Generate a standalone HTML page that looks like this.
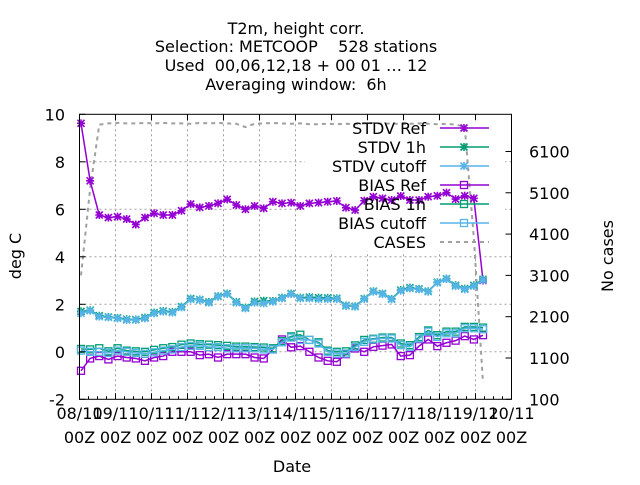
<!DOCTYPE html>
<html><head><meta charset="utf-8"><style>
body{margin:0;background:#fff;}
svg text{font-family:"DejaVu Sans","Liberation Sans",sans-serif;font-size:16px;fill:#000;}
</style></head><body>
<svg id="chart" width="640" height="480" viewBox="0 0 640 480" xmlns="http://www.w3.org/2000/svg">
<g text-anchor="middle">
<text x="296" y="34">T2m, height corr.</text>
<text x="296" y="52" xml:space="preserve">Selection: METCOOP    528 stations</text>
<text x="296" y="71" xml:space="preserve">Used  00,06,12,18 + 00 01 … 12</text>
<text x="296" y="90" xml:space="preserve">Averaging window:  6h</text>
</g>
<g id="grid"></g>
<rect x="305" y="118" width="200" height="133" fill="#fff"/>
<g id="series"></g>
<rect x="79.5" y="114.3" width="432" height="285" fill="none" stroke="#000" stroke-width="1"/>
<g id="axes"></g>
<g id="legend"></g>
<text transform="translate(21,256) rotate(-90)" text-anchor="middle">deg C</text>
<text transform="translate(613,256) rotate(-90)" text-anchor="middle">No cases</text>
<text x="292" y="472" text-anchor="middle">Date</text>
</svg>
<script>
const xTickTop = ["08/11","09/11","10/11","11/11","12/11","13/11","14/11","15/11","16/11","17/11","18/11","19/11","20/11"];
const xTickBottom = "00Z";
const yTicks = [-2,0,2,4,6,8,10];
const y2Ticks = [100,1100,2100,3100,4100,5100,6100];
const stdvRef = [9.62,7.2,5.76,5.65,5.69,5.59,5.36,5.65,5.83,5.76,5.76,5.94,6.22,6.08,6.14,6.25,6.42,6.18,6.0,6.14,6.04,6.32,6.25,6.28,6.14,6.25,6.28,6.32,6.35,6.07,5.97,6.36,6.53,6.46,6.39,6.56,6.39,6.39,6.53,6.57,6.7,6.43,6.57,6.46,3.0];
const stdvCutoff = [1.62,1.73,1.48,1.45,1.41,1.34,1.34,1.41,1.62,1.69,1.65,1.87,2.21,2.18,2.07,2.32,2.43,2.07,1.83,2.07,2.04,2.11,2.25,2.43,2.25,2.25,2.22,2.22,2.22,1.93,1.9,2.22,2.53,2.43,2.21,2.57,2.67,2.63,2.53,2.91,3.06,2.77,2.63,2.77,3.02];
const stdv1h = [1.7,1.75,1.52,1.47,1.43,1.37,1.36,1.44,1.65,1.72,1.68,1.9,2.24,2.2,2.1,2.34,2.45,2.1,1.86,2.12,2.15,2.14,2.28,2.45,2.28,2.3,2.28,2.27,2.25,1.95,1.92,2.24,2.55,2.45,2.23,2.6,2.7,2.65,2.55,2.93,3.08,2.8,2.66,2.8,3.05];
const biasRef = [-0.8,-0.28,-0.18,-0.32,-0.18,-0.24,-0.28,-0.38,-0.24,-0.18,0.0,0.0,0.0,-0.14,-0.1,-0.24,-0.1,-0.1,-0.1,-0.24,-0.28,0.1,0.52,0.19,0.24,0.0,-0.24,-0.38,-0.42,-0.1,0.14,0.0,0.21,0.26,0.31,-0.18,-0.14,0.24,0.52,0.24,0.38,0.47,0.66,0.52,0.7];
const biasCutoff = [0.05,0.0,0.0,-0.05,0.05,0.0,-0.05,-0.08,-0.02,0.05,0.1,0.2,0.25,0.25,0.2,0.2,0.15,0.15,0.15,0.15,0.1,0.1,0.4,0.6,0.5,0.5,0.35,0.0,-0.07,-0.07,0.2,0.42,0.52,0.56,0.56,0.28,0.21,0.56,0.85,0.63,0.78,0.78,0.99,0.99,0.95];
const bias1h = [0.12,0.1,0.15,0.02,0.15,0.05,0.02,0.0,0.08,0.15,0.2,0.3,0.35,0.32,0.3,0.28,0.25,0.22,0.22,0.2,0.18,0.15,0.45,0.65,0.72,0.5,0.4,0.05,0.0,0.02,0.27,0.5,0.55,0.6,0.6,0.35,0.28,0.62,0.9,0.7,0.85,0.85,1.05,1.05,1.02];
const cases = [3100,5200,6750,6780,6790,6780,6780,6790,6780,6790,6780,6780,6770,6790,6780,6790,6780,6770,6690,6770,6780,6790,6780,6770,6780,6760,6760,6770,6760,6770,6760,6780,6790,6770,6780,6760,6770,6780,6770,6760,6770,6750,6700,4000,500];

const NS="http://www.w3.org/2000/svg";
const L=79.5,R=511.5,T=114.3,B=399.3;
const xIdx=i=>81+i*(402/44);
const xDay=d=>L+d*(R-L)/12;
const yL=v=>B-(v+2)*(B-T)/12;
const yR=v=>B-(v-100)*(B-T)/6900;
function mk(tag,attrs,parent){const e=document.createElementNS(NS,tag);for(const k in attrs)e.setAttribute(k,attrs[k]);parent.appendChild(e);return e;}
const grid=document.getElementById('grid'),axes=document.getElementById('axes'),series=document.getElementById('series'),legend=document.getElementById('legend');
xTickTop.forEach((t,d)=>{
  const x=xDay(d);
  if(d>0&&d<12){const g=mk('line',{x1:x,x2:x,y1:T,y2:B,stroke:'#a0a0a0','stroke-dasharray':'2,3'},grid);
  }
  const tk=mk('path',{d:`M${x},${B}v-6M${x},${T}v6`,stroke:'#000'},axes);
  
  const a=mk('text',{x:x,y:419,'text-anchor':'middle'},axes);a.textContent=t;
  
  const b=mk('text',{x:x,y:443,'text-anchor':'middle'},axes);b.textContent=xTickBottom;
  
  for(let q=1;q<4&&d<12;q++){const m=mk('path',{d:`M${x+q*9},${B}v-3`,stroke:'#000'},axes);
  }
});
yTicks.forEach(v=>{
  const y=yL(v);
  if(v>-2&&v<10){const g=mk('line',{x1:L,x2:R,y1:y,y2:y,stroke:'#a0a0a0','stroke-dasharray':'2,3'},grid);
  }
  const tk=mk('path',{d:`M${L},${y}h6`,stroke:'#000'},axes);
  
  const t=mk('text',{x:65,y:y+6,'text-anchor':'end'},axes);t.textContent=v;
  
});
y2Ticks.forEach(v=>{
  const y=yR(v);
  const tk=mk('path',{d:`M${R},${y}h-6`,stroke:'#000'},axes);
  
  const t=mk('text',{x:529,y:y+6,'text-anchor':'start'},axes);t.textContent=v;
  
});
function star(x,y,c,p){return mk('path',{d:`M${x-4},${y}h8M${x},${y-4}v8M${x-3.5},${y-3.5}l7,7M${x-3.5},${y+3.5}l7,-7`,stroke:c,'stroke-width':1.6,fill:'none'},p);}
function sq(x,y,c,p){return mk('rect',{x:x-3.5,y:y-3.5,width:7,height:7,stroke:c,'stroke-width':1.3,fill:'none'},p);}
const cp=mk('polyline',{points:cases.map((v,i)=>xIdx(i)+','+yR(v)).join(' '),fill:'none',stroke:'#a0a0a0','stroke-width':2,'stroke-dasharray':'4,4'},series);

const defs=[
 ['stdv-ref',stdvRef,'#9400d3',star],
 ['stdv-1h',stdv1h,'#009e73',star],
 ['stdv-cutoff',stdvCutoff,'#56b4e9',star],
 ['bias-ref',biasRef,'#9400d3',sq],
 ['bias-1h',bias1h,'#009e73',sq],
 ['bias-cutoff',biasCutoff,'#56b4e9',sq]];
defs.forEach(([n,arr,c,m])=>{
  const g=mk('g',{},series);
  const pl=mk('polyline',{points:arr.map((v,i)=>xIdx(i)+','+yL(v)).join(' '),fill:'none',stroke:c,'stroke-width':1.5},g);
  
  arr.forEach((v,i)=>{const e=m(xIdx(i),yL(v),c,g);});
});
const lg=[['STDV Ref','#9400d3',star,0],['STDV 1h','#009e73',star,0],['STDV cutoff','#56b4e9',star,0],['BIAS Ref','#9400d3',sq,0],['BIAS 1h','#009e73',sq,0],['BIAS cutoff','#56b4e9',sq,0],['CASES','#a0a0a0',null,1]];
lg.forEach(([t,c,m,d],k)=>{
  const y=128+k*19;
  const g=mk('g',{},legend);
  const tx=mk('text',{x:426,y:y+6,'text-anchor':'end'},g);tx.textContent=t;
  const ln=mk('line',{x1:440,x2:489,y1:y,y2:y,stroke:c,'stroke-width':d?2:1.5},g);
  if(d)ln.setAttribute('stroke-dasharray','4,4');
  if(m)m(464,y,c,g);
});
</script>
</body></html>
